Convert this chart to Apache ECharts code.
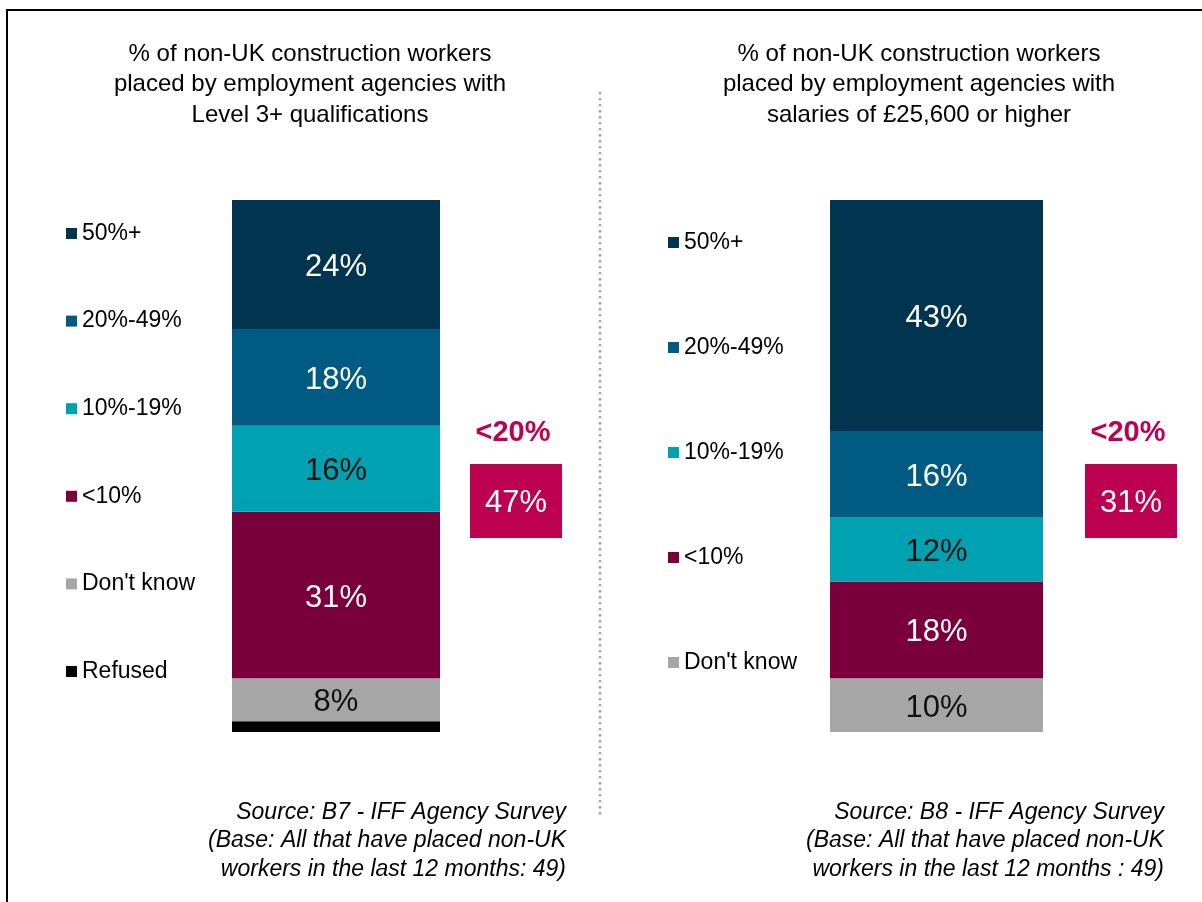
<!DOCTYPE html>
<html>
<head>
<meta charset="utf-8">
<script src="https://cdn.jsdelivr.net/npm/echarts@6/dist/echarts.min.js"></script>
<style>
  html, body { margin: 0; padding: 0; background: #fff; }
  #chart { width: 1202px; height: 902px; }
</style>
</head>
<body>
<div id="chart"></div>
<script>
// bands, listed bottom-up (stack order)
const leftBands = ["Refused", "Don't know", "<10%", "10%-19%", "20%-49%", "50%+"];
const leftValues = [2, 8, 31, 16, 18, 24];
const rightBands = ["Don't know", "<10%", "10%-19%", "20%-49%", "50%+"];
const rightValues = [10, 18, 12, 16, 43];

const leftTitle = "% of non-UK construction workers\nplaced by employment agencies with\nLevel 3+ qualifications";
const rightTitle = "% of non-UK construction workers\nplaced by employment agencies with\nsalaries of £25,600 or higher";
const leftSource = "Source: B7 - IFF Agency Survey\n(Base: All that have placed non-UK\nworkers in the last 12 months: 49)";
const rightSource = "Source: B8 - IFF Agency Survey\n(Base: All that have placed non-UK\nworkers in the last 12 months : 49)";
const calloutHeading = "<20%";
const calloutValues = ["47%", "31%"];

const FONT = "'Liberation Sans', Arial, sans-serif";
const colors = {
  "50%+": "#00344F",
  "20%-49%": "#005A82",
  "10%-19%": "#00A2B1",
  "<10%": "#7A003C",
  "Don't know": "#A6A6A6",
  "Refused": "#000000"
};
const darkText = { "10%-19%": true, "Don't know": true };
const accent = "#BE0050";

const chart = echarts.init(document.getElementById("chart"));

function makeSeries(bands, values, idx) {
  return bands.map((name, i) => ({
    name: name,
    type: "bar",
    stack: "panel" + idx,
    xAxisIndex: idx,
    yAxisIndex: idx,
    barWidth: "100%",
    itemStyle: { color: colors[name] },
    label: {
      show: name !== "Refused",
      position: "inside",
      offset: [0, 3],
      formatter: "{c}%",
      fontFamily: FONT,
      fontSize: 31,
      color: darkText[name] ? "#111" : "#fff"
    },
    emphasis: { disabled: true },
    data: [values[i]]
  }));
}

function legendFor(bands, left, top, gap) {
  return {
    orient: "vertical",
    left: left,
    top: top,
    itemWidth: 11,
    itemHeight: 11,
    itemGap: gap,
    icon: "rect",
    selectedMode: false,
    textStyle: { fontFamily: FONT, fontSize: 23, color: "#000", lineHeight: 22 },
    data: bands.slice().reverse()
  };
}

function callout(cx, heading, value) {
  return [
    {
      type: "text",
      x: cx - 3,
      y: 433,
      style: {
        text: heading,
        align: "center",
        verticalAlign: "middle",
        font: "bold 29px " + FONT,
        fill: accent
      }
    },
    {
      type: "rect",
      shape: { x: cx - 46, y: 464, width: 92, height: 74 },
      style: { fill: accent }
    },
    {
      type: "text",
      x: cx,
      y: 503,
      style: {
        text: value,
        align: "center",
        verticalAlign: "middle",
        font: "31px " + FONT,
        fill: "#fff"
      }
    }
  ];
}

const option = {
  animation: false,
  backgroundColor: "#fff",
  grid: [
    { left: 232, top: 200, width: 208, height: 532 },
    { left: 830, top: 200, width: 213, height: 532 }
  ],
  xAxis: [0, 1].map(i => ({
    type: "category",
    gridIndex: i,
    data: [""],
    show: false
  })),
  yAxis: [0, 1].map(i => ({
    type: "value",
    gridIndex: i,
    min: 0,
    max: 99,
    show: false
  })),
  legend: [
    legendFor(leftBands, 61, 217, 64.6),
    legendFor(rightBands, 663, 226, 82)
  ],
  series: makeSeries(leftBands, leftValues, 0).concat(makeSeries(rightBands, rightValues, 1)),
  graphic: [
    {
      type: "rect",
      shape: { x: 7, y: 10, width: 1400, height: 1200 },
      style: { fill: null, stroke: "#000", lineWidth: 2 }
    },
    {
      type: "line",
      shape: { x1: 600, y1: 92, x2: 600, y2: 818 },
      style: { stroke: "#A6A6A6", lineWidth: 2.5, lineDash: [2.5, 3.5] }
    },
    {
      type: "text",
      x: 310,
      y: 39,
      style: { text: leftTitle, align: "center", font: "24px " + FONT, lineHeight: 30.5, fill: "#000" }
    },
    {
      type: "text",
      x: 919,
      y: 39,
      style: { text: rightTitle, align: "center", font: "24px " + FONT, lineHeight: 30.5, fill: "#000" }
    },
    {
      type: "text",
      x: 566,
      y: 798,
      style: { text: leftSource, align: "right", font: "italic 23px " + FONT, lineHeight: 28.5, fill: "#000" }
    },
    {
      type: "text",
      x: 1164,
      y: 798,
      style: { text: rightSource, align: "right", font: "italic 23px " + FONT, lineHeight: 28.5, fill: "#000" }
    }
  ].concat(callout(516, calloutHeading, calloutValues[0]), callout(1131, calloutHeading, calloutValues[1]))
};

chart.setOption(option);
</script>
</body>
</html>
